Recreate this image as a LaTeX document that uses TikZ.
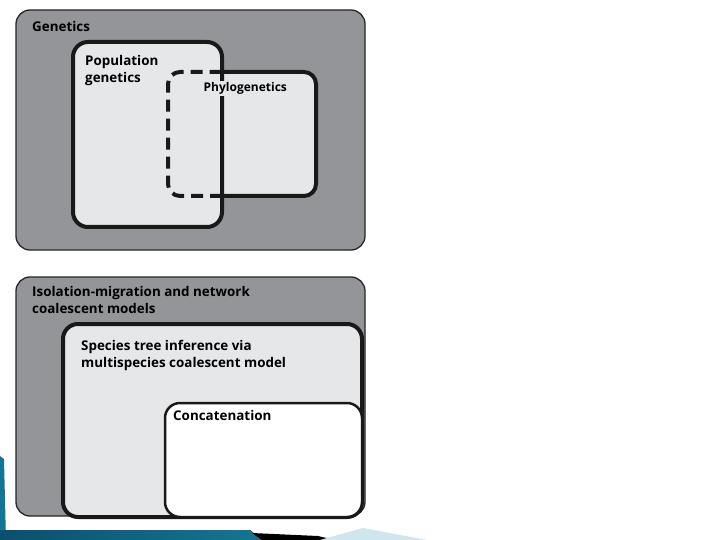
\documentclass[tikz,border=0pt]{standalone}
\usepackage{fontspec}
\setmainfont{Open Sans}
\usepackage{xcolor}
\usetikzlibrary{calc}
\definecolor{setdark}{RGB}{147,149,152}
\definecolor{setlight}{RGB}{230,231,232}
\definecolor{slideteal}{RGB}{20,118,148}
\definecolor{slidedeep}{RGB}{10,80,110}
\definecolor{slidesky}{RGB}{208,230,238}
\tikzset{
scouter/.style={draw=black!85,line width=1.3pt,fill=setdark,rounded corners=14pt},
scinner/.style={draw=black!90,line width=4pt,fill=setlight,rounded corners=15pt},
scphylo/.style={draw=black!90,line width=4pt,rounded corners=12pt},
scdash/.style={scphylo,dash pattern=on 12pt off 7pt},
scwhite/.style={draw=black!90,line width=2.5pt,fill=white,rounded corners=15pt},
sclabel/.style={font=\bfseries\fontsize{13.4}{17.5}\selectfont,anchor=north west,inner sep=0pt,align=left},
scsmall/.style={sclabel,font=\bfseries\fontsize{12}{15}\selectfont}
}
\begin{document}
\begin{tikzpicture}[x=1pt,y=-1pt]
\useasboundingbox (0,0) rectangle (720,540);
\fill[white] (0,0) rectangle (720,540);
\fill[slideteal] (0,456) -- (4,459) -- (6,540) -- (0,540) -- cycle;
\fill[left color=slidedeep,right color=slideteal] (0,530) -- (250,530) -- (262,540) -- (0,540) -- cycle;
\fill[black] (252,533) -- (318,536) -- (335,540) -- (262,540) -- cycle;
\fill[slidesky] (320,540) -- (363,528) -- (427,540) -- cycle;
\draw[scouter] (16,10) rectangle (365,250);
\fill[setlight,rounded corners=12pt] (168,72) rectangle (316,196);
\draw[scinner] (73,42) rectangle (222,227);
\draw[scdash] (222,196) -- (168,196) -- (168,72) -- (222,72);
\draw[scphylo] (222,72) -- (316,72) -- (316,196) -- (222,196);
\node[sclabel] (genetics) at (32,21) {Genetics};
\node[sclabel] (popgen) at (85,55) {Population\\genetics};
\node[scsmall,fill=setlight,inner sep=1.5pt] (phylo) at (202,81) {Phylogenetics};
\draw[scouter] (16,277) rectangle (365,516);
\draw[scinner] (63,324) rectangle (362,517);
\draw[scwhite] (165,403) rectangle (362,517);
\node[sclabel] (isolation) at (32,286) {Isolation-migration and network\\coalescent models};
\node[sclabel] (species) at (81,340) {Species tree inference via\\multispecies coalescent model};
\node[sclabel] (concat) at (173,410) {Concatenation};
\end{tikzpicture}
\end{document}
